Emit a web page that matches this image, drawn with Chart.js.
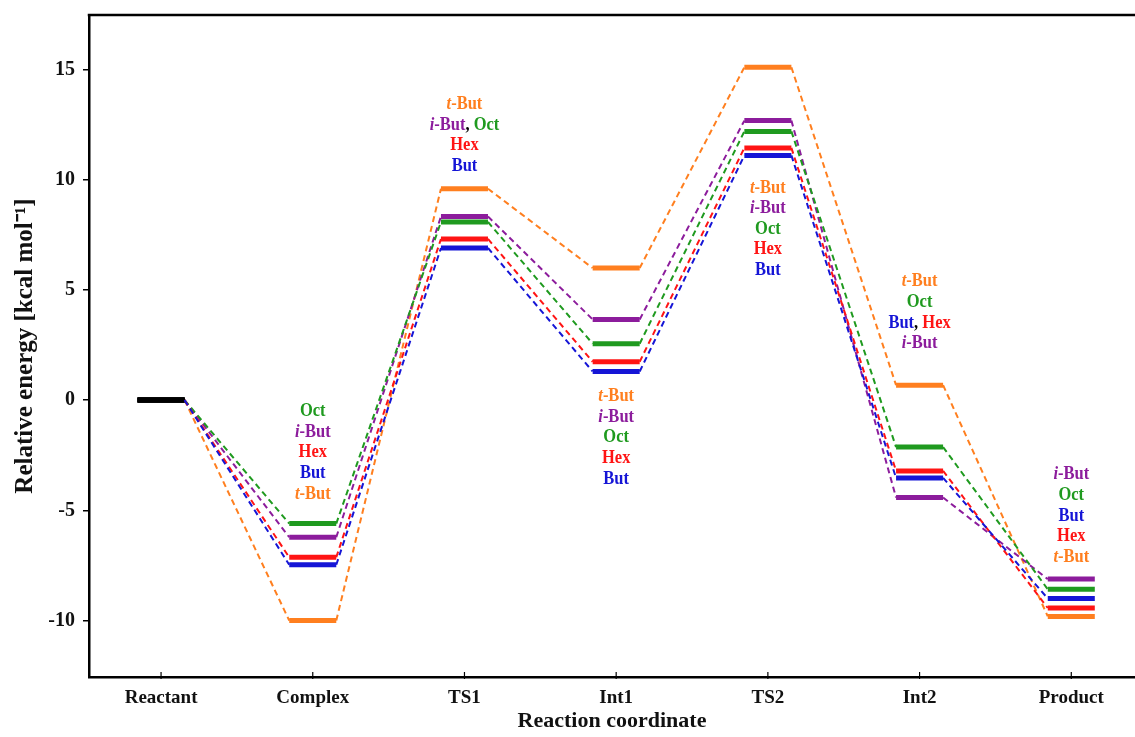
<!DOCTYPE html>
<html><head><meta charset="utf-8">
<script src="https://cdn.jsdelivr.net/npm/chart.js@4"></script>
<style>html,body{margin:0;padding:0;background:#fff}canvas{display:block}</style>
</head><body><canvas id="c" width="1135" height="737"></canvas>
<script>
// ---- data ----
const stages = ['Reactant', 'Complex', 'TS1', 'Int1', 'TS2', 'Int2', 'Product'];
const butE  = [0, -7.47, 6.90, 1.30, 11.10, -3.53, -9.00];
const hexE  = [0, -7.13, 7.31, 1.74, 11.44, -3.21, -9.43];
const octE  = [0, -5.60, 8.08, 2.56, 12.19, -2.13, -8.58];
const iButE = [0, -6.22, 8.33, 3.66, 12.68, -4.42, -8.12];
const tButE = [0, -10.00, 9.59, 5.99, 15.10, 0.68, -9.81];
const seriesNames = ['But', 'Hex', 'Oct', 'i-But', 't-But'];
const seriesColors = ['#1515d6', '#ff1414', '#1f9a1f', '#8c1c9c', '#ff7f1f'];
const yTicks = [-10, -5, 0, 5, 10, 15];

// state labels (stage index, y of first line, lines of series names)
const labelStage = [1, 2, 3, 4, 5, 6];
const labelTopY = [-0.50, 13.44, 0.18, 9.65, 5.39, -3.36];
const labelLines = [
  [['Oct'], ['i-But'], ['Hex'], ['But'], ['t-But']],
  [['t-But'], ['i-But', 'Oct'], ['Hex'], ['But']],
  [['t-But'], ['i-But'], ['Oct'], ['Hex'], ['But']],
  [['t-But'], ['i-But'], ['Oct'], ['Hex'], ['But']],
  [['t-But'], ['Oct'], ['But', 'Hex'], ['i-But']],
  [['i-But'], ['Oct'], ['But'], ['Hex'], ['t-But']]
];

// ---- build ----
const HALF = 0.155;
const seriesValues = [butE, hexE, octE, iButE, tButE];
function levelPoints(vals) {
  const pts = [];
  vals.forEach((v, i) => { pts.push({x: i - HALF, y: v}); pts.push({x: i + HALF, y: v}); });
  return pts;
}
const datasets = seriesNames.map((name, k) => {
  const col = seriesColors[k];
  return {
    label: name,
    data: levelPoints(seriesValues[k]),
    borderColor: col,
    borderWidth: 2,
    pointRadius: 0,
    fill: false,
    tension: 0,
    borderCapStyle: 'butt',
    segment: {
      borderColor: ctx => ctx.p0DataIndex === 0 ? '#000' : col,
      borderWidth: ctx => ctx.p0DataIndex % 2 === 0 ? 5 : 2,
      borderDash: ctx => ctx.p0DataIndex % 2 === 0 ? [] : [6, 4]
    }
  };
});

const FONT = '"Liberation Serif", "Times New Roman", serif';
const colorOf = name => seriesColors[seriesNames.indexOf(name)];
const STRETCH = 1.2;

const decor = {
  id: 'decor',
  afterDatasetsDraw(chart) {
    const {ctx, chartArea: a, scales: {x, y}} = chart;
    ctx.save();
    // top border
    ctx.strokeStyle = '#000';
    ctx.lineWidth = 2.5;
    ctx.beginPath(); ctx.moveTo(a.left - 1.25, a.top); ctx.lineTo(a.right, a.top); ctx.stroke();
    // inside x ticks
    ctx.lineWidth = 1.2;
    stages.forEach((s, i) => {
      const px = x.getPixelForValue(i);
      ctx.beginPath(); ctx.moveTo(px, a.bottom - 5); ctx.lineTo(px, a.bottom + 2); ctx.stroke();
    });
    // state labels
    const LINE = 20.6;
    ctx.textBaseline = 'middle';
    ctx.textAlign = 'left';
    labelStage.forEach((st, g) => {
      const cx = x.getPixelForValue(st);
      const y0 = y.getPixelForValue(labelTopY[g]);
      labelLines[g].forEach((names, li) => {
        const runs = [];
        names.forEach((nm, j) => {
          if (j > 0) runs.push({t: ', ', c: '#000', it: false});
          const col = colorOf(nm);
          if (nm.indexOf('-') === 1) {
            runs.push({t: nm[0], c: col, it: true});
            runs.push({t: nm.slice(1), c: col, it: false});
          } else runs.push({t: nm, c: col, it: false});
        });
        let total = 0;
        runs.forEach(r => {
          ctx.font = (r.it ? 'italic ' : '') + 'bold 16.5px ' + FONT;
          r.w = ctx.measureText(r.t).width; total += r.w;
        });
        let px = cx - total / 2;
        const py = y0 + li * LINE;
        runs.forEach(r => {
          ctx.font = (r.it ? 'italic ' : '') + 'bold 16.5px ' + FONT;
          ctx.fillStyle = r.c;
          ctx.save();
          ctx.translate(px, py);
          ctx.scale(1, STRETCH);
          ctx.fillText(r.t, 0, 0);
          ctx.restore();
          px += r.w;
        });
      });
    });
    ctx.restore();
  }
};

new Chart(document.getElementById('c'), {
  type: 'line',
  data: {datasets},
  options: {
    responsive: false,
    animation: false,
    devicePixelRatio: 1,
    layout: {padding: {top: 15, right: 0, bottom: 0, left: 0}},
    plugins: {legend: {display: false}, tooltip: {enabled: false}},
    scales: {
      x: {
        type: 'linear',
        min: -0.475, max: 6.42,
        afterBuildTicks: s => { s.ticks = stages.map((n, i) => ({value: i})); },
        afterFit: s => { s.height = 60; s.paddingLeft = 0; s.paddingRight = 0; },
        ticks: {
          callback: v => stages[Math.round(v)],
          font: {family: FONT, size: 19, weight: 'bold'},
          color: '#111', padding: 10, maxRotation: 0, autoSkip: false
        },
        grid: {display: false, drawTicks: false},
        border: {display: true, color: '#000', width: 2.5},
        title: {
          display: true, text: 'Reaction coordinate', color: '#111',
          font: {family: FONT, size: 22, weight: 'bold', lineHeight: 1.2},
          padding: {top: 0, bottom: 2}
        }
      },
      y: {
        type: 'linear',
        min: -12.56, max: 17.47,
        afterBuildTicks: s => { s.ticks = yTicks.map(v => ({value: v})); },
        afterFit: s => { s.width = 89; s.paddingTop = 0; s.paddingBottom = 0; },
        ticks: {
          font: {family: FONT, size: 20, weight: 'bold'},
          color: '#111', padding: 8
        },
        grid: {drawOnChartArea: false, drawTicks: true, tickLength: 6, color: '#000', lineWidth: 1.5},
        border: {display: true, color: '#000', width: 2.5},
        title: {
          display: true, text: 'Relative energy [kcal mol\u207B\u00B9]', color: '#111',
          font: {family: FONT, size: 25, weight: 'bold', lineHeight: 1.2},
          padding: {top: 11, bottom: 0}
        }
      }
    }
  },
  plugins: [decor]
});
</script></body></html>
